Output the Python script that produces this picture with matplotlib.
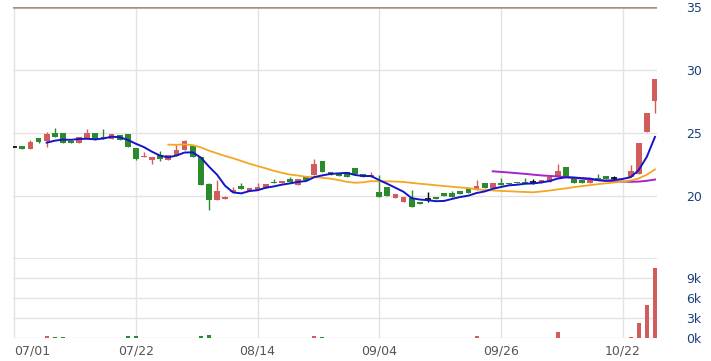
import numpy as np
import pandas as pd
import matplotlib
matplotlib.use("Agg")
import matplotlib.pyplot as plt

# daily OHLC (red = up, green = down), volume in thousands
opens = [23.88, 23.97, 23.75, 24.58, 24.40, 25.00, 25.00, 24.35, 24.23, 24.58,
         25.03, 24.72, 24.52, 24.87, 24.90, 23.80, 23.12, 22.86, 23.25, 22.88,
         23.17, 23.65, 24.00, 23.12, 20.93, 19.65, 19.76, 20.30, 20.80, 20.40,
         20.48, 20.66, 21.14, 21.01, 21.35, 20.85, 21.53, 21.67, 22.80, 21.93,
         21.72, 21.93, 22.20, 21.72, 21.48, 20.34, 20.74, 19.85, 19.55, 19.82,
         19.52, 19.74, 19.95, 20.26, 20.21, 20.42, 20.61, 20.48, 21.06, 20.61,
         21.06, 21.06, 21.14, 21.14, 21.14, 21.06, 21.14, 21.59, 22.33, 21.48,
         21.27, 21.00, 21.40, 21.59, 21.40, 21.40, 21.53, 21.72, 25.10, 27.54]
highs = [24.00, 23.97, 24.45, 24.60, 25.10, 25.37, 25.00, 24.35, 24.66, 25.30,
         25.03, 25.30, 24.90, 24.87, 24.90, 23.80, 23.50, 23.06, 23.60, 23.25,
         24.05, 24.45, 24.00, 23.12, 21.05, 21.27, 20.00, 20.74, 21.00, 20.60,
         21.05, 20.93, 21.33, 21.22, 21.48, 21.35, 21.53, 22.90, 22.80, 21.93,
         21.72, 21.93, 22.20, 21.72, 21.93, 21.70, 20.74, 20.15, 19.90, 20.50,
         19.52, 20.34, 19.95, 20.26, 20.40, 20.42, 20.61, 21.27, 21.06, 21.01,
         21.40, 21.06, 21.14, 21.40, 21.33, 21.27, 21.48, 22.54, 22.33, 21.48,
         21.27, 21.30, 21.72, 21.59, 21.57, 21.40, 22.45, 24.18, 26.61, 29.26]
lows = [23.88, 23.75, 23.75, 24.20, 23.90, 24.66, 24.20, 24.20, 24.23, 24.58,
        24.44, 24.55, 24.52, 24.45, 23.92, 22.85, 23.10, 22.55, 22.75, 22.88,
        23.17, 23.65, 23.12, 20.87, 18.85, 19.65, 19.75, 20.30, 20.52, 20.40,
        20.48, 20.66, 21.01, 21.01, 21.10, 20.85, 21.27, 21.67, 21.93, 21.68,
        21.55, 21.48, 21.72, 21.50, 21.48, 19.95, 20.00, 19.85, 19.55, 19.15,
        19.40, 19.55, 19.75, 20.00, 19.96, 20.16, 20.27, 20.48, 20.62, 20.61,
        20.88, 20.94, 21.02, 21.02, 20.95, 21.06, 21.14, 21.59, 21.53, 21.06,
        21.02, 21.00, 21.33, 21.33, 21.27, 21.40, 21.53, 21.72, 25.10, 26.61]
closes = [23.88, 23.76, 24.31, 24.30, 24.92, 24.66, 24.20, 24.20, 24.66, 24.98,
          24.44, 24.55, 24.90, 24.45, 23.92, 22.92, 23.20, 23.06, 22.90, 23.25,
          23.65, 24.39, 23.12, 20.87, 19.68, 20.42, 19.95, 20.48, 20.52, 20.60,
          20.74, 20.93, 21.01, 21.22, 21.10, 21.35, 21.27, 22.54, 21.93, 21.68,
          21.55, 21.48, 21.72, 21.50, 21.67, 19.95, 20.00, 20.15, 19.90, 19.15,
          19.40, 19.74, 19.75, 20.00, 19.96, 20.16, 20.27, 20.79, 20.62, 21.01,
          20.88, 20.94, 21.02, 21.02, 21.14, 21.27, 21.48, 22.00, 21.53, 21.06,
          21.02, 21.30, 21.33, 21.33, 21.40, 21.40, 22.00, 24.18, 26.61, 29.26]
volumes = [0.02, 0.03, 0.05, 0.03, 0.25, 0.10, 0.10, 0.03, 0.05, 0.05,
           0.03, 0.02, 0.05, 0.05, 0.25, 0.25, 0.02, 0.02, 0.04, 0.02,
           0.03, 0.05, 0.05, 0.25, 0.40, 0.05, 0.02, 0.02, 0.02, 0.02,
           0.02, 0.02, 0.02, 0.03, 0.02, 0.02, 0.02, 0.25, 0.10, 0.02,
           0.02, 0.02, 0.02, 0.02, 0.02, 0.05, 0.02, 0.02, 0.02, 0.05,
           0.02, 0.02, 0.02, 0.02, 0.02, 0.02, 0.02, 0.30, 0.02, 0.02,
           0.02, 0.02, 0.02, 0.02, 0.02, 0.02, 0.05, 0.85, 0.05, 0.02,
           0.02, 0.02, 0.02, 0.02, 0.02, 0.00, 0.08, 2.20, 4.95, 10.45]
date_labels = ["07/01", "07/22", "08/14", "09/04", "09/26", "10/22"]
price_ticks = [20, 25, 30, 35]
vol_ticks = [0, 3, 6, 9]

RED = "#d05c5c"
GREEN = "#2b8a2b"
GRID = "#e3e3e3"

df = pd.DataFrame({"open": opens, "high": highs, "low": lows,
                   "close": closes, "vol": volumes})
x = np.arange(len(df))
ma5 = df["close"].rolling(5).mean()
ma20 = df["close"].rolling(20).mean()
ma60 = df["close"].rolling(60).mean()

fig = plt.figure(figsize=(7.11, 3.61), dpi=100)
ax = fig.add_axes([13 / 711, 102 / 361, 644 / 711, 252 / 361])
vax = fig.add_axes([13 / 711, 23 / 361, 644 / 711, 79 / 361])

traded = df["vol"] > 0
colors = np.where(df["close"] > df["open"], RED,
                  np.where(df["close"] < df["open"], GREEN, "black"))
bw = 0.72

for i in x[traded.values]:
    o, h, l, c = df.loc[i, ["open", "high", "low", "close"]]
    col = colors[i]
    ax.vlines(i, l, h, color=col, lw=1, zorder=3)
    if o == c:
        ax.hlines(o, i - bw / 2, i + bw / 2, color=col, lw=1.2, zorder=3)
    else:
        ax.bar(i, abs(c - o), bottom=min(o, c), width=bw, color=col,
               linewidth=0, zorder=3)

ax.plot(x, ma60, color="#a324c8", lw=1.4, zorder=4)
ax.plot(x, ma20, color="#f5a623", lw=1.3, zorder=4)
ax.plot(x, ma5, color="#1414c8", lw=1.4, zorder=5)

vax.bar(x, df["vol"], width=0.5, color=colors, linewidth=0, zorder=3)

tick_idx = np.arange(0, len(df), 15)
xlim = (-0.15, 79.25)
for a in (ax, vax):
    a.set_xlim(*xlim)
    for s in a.spines.values():
        s.set_visible(False)
    a.set_xticks(tick_idx)
    a.grid(True, color=GRID, lw=1, zorder=0)
    a.yaxis.tick_right()
    a.tick_params(axis="y", length=0, pad=21, labelsize=9, labelcolor="#1d3f7c")
    a.tick_params(axis="x", length=0)

ax.set_ylim(15, 35)
ax.set_yticks(price_ticks)
ax.set_yticklabels([str(t) for t in price_ticks])
ax.set_xticklabels([])
ax.axhline(15, color=GRID, lw=1.5, zorder=1)
ax.axhline(35, color="#a8927a", lw=1.8, zorder=2)

vax.set_ylim(0, 11.85)
vax.set_yticks(vol_ticks)
vax.set_yticklabels([f"{t}k" for t in vol_ticks])
vax.set_xticklabels(date_labels)
vax.tick_params(axis="x", pad=5, labelsize=9, labelcolor="#555555")
vax.get_xticklabels()[0].set_horizontalalignment("left")

fig.savefig("out.png", dpi=100)
